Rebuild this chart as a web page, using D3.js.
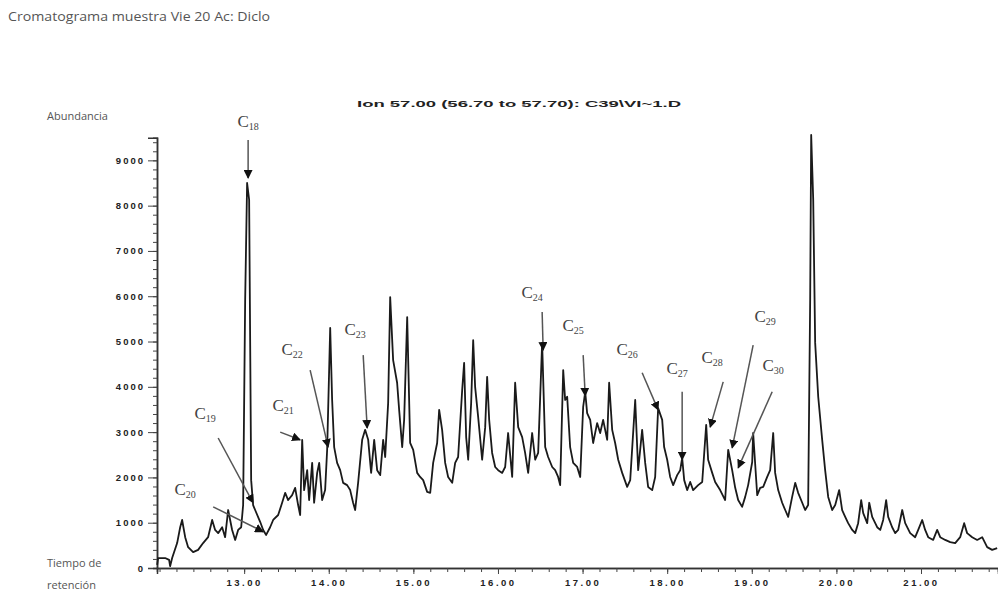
<!DOCTYPE html>
<html>
<head>
<meta charset="utf-8">
<script src="https://cdn.jsdelivr.net/npm/d3@7"></script>
<style>
body { margin: 0; background: #fff; }
</style>
</head>
<body>
<div id="chart"></div>
<script>
// retention time (min)
var retentionTime = [
  11.972,11.983,12.066,12.113,12.125,12.149,12.208,12.244,12.267,12.303,12.338,12.397,12.456,12.515,12.574,12.622,12.657,12.693,12.740,12.775,12.811,12.858,12.894,12.929,12.965,12.988,13.012,13.035,13.059,13.083,13.106,
  13.130,13.189,13.225,13.260,13.307,13.343,13.402,13.449,13.485,13.520,13.567,13.603,13.638,13.662,13.686,13.709,13.745,13.768,13.804,13.827,13.863,13.887,13.922,13.957,13.981,14.017,14.040,14.064,
  14.099,14.135,14.170,14.217,14.253,14.288,14.312,14.347,14.395,14.430,14.466,14.501,14.537,14.572,14.608,14.643,14.667,14.702,14.726,14.761,14.808,14.832,14.868,14.891,14.927,14.962,14.998,15.045,15.080,15.116,15.163,15.199,15.234,15.281,15.305,15.340,15.376,15.411,15.459,15.494,15.529,15.577,15.600,15.624,15.648,15.683,15.707,15.730,15.766,15.813,15.849,15.872,15.896,15.931,15.967,16.002,16.050,16.085,16.120,16.168,16.203,16.239,16.286,16.321,16.357,16.404,16.440,16.475,16.522,
  16.558,16.593,16.641,16.676,16.711,16.735,16.771,16.794,16.818,16.853,16.889,16.936,16.972,17.007,17.031,17.054,17.090,17.125,17.172,17.208,17.243,17.291,17.314,17.350,17.385,17.421,17.468,17.527,17.563,17.622,17.657,17.704,17.740,17.775,17.823,17.858,17.893,
  17.941,17.964,18.000,18.035,18.071,18.118,18.154,18.177,18.201,18.236,18.272,18.307,18.366,18.414,18.461,18.484,18.532,18.567,18.626,18.685,18.721,18.768,18.804,18.839,18.886,18.922,18.957,19.005,19.016,19.064,19.099,19.135,19.182,19.217,19.253,19.276,19.312,19.359,19.395,19.430,19.477,19.513,19.548,19.596,19.631,19.666,
  19.690,19.702,19.726,19.749,19.785,19.832,19.867,19.903,19.950,19.986,20.033,20.068,20.104,20.139,20.187,20.222,20.257,20.293,20.317,20.364,20.388,20.423,20.482,20.518,20.553,20.588,20.612,20.659,20.695,20.730,20.778,20.813,20.872,20.931,20.967,21.014,21.049,21.085,21.144,21.191,21.227,21.286,21.345,21.404,21.463,21.510,21.545,21.605,21.664,21.723,21.782,21.841,21.900
];

// abundance at each retention time
var abundance = [
  70,220,220,180,40,220,550,900,1060,680,460,350,400,550,680,1060,840,770,900,680,1280,840,620,840,900,1390,5920,8500,8130,1940,1390,
  1280,1020,840,730,900,1060,1170,1440,1660,1500,1610,1770,1390,1170,2830,1720,2160,1500,2320,1440,2100,2320,1500,1720,2610,5300,3710,2670,
  2320,2160,1880,1830,1720,1440,1280,1880,2830,3050,2830,2100,2830,2160,2050,2830,2450,3640,5980,4590,4090,3490,2670,3270,5540,2760,2610,2100,2010,1940,1680,1660,2320,2760,3490,3050,2320,2010,1880,2320,2450,3930,4530,2890,2390,3640,5030,4000,3330,2390,3110,4220,3270,2540,2230,2160,2100,2230,2980,2010,4090,3110,2890,2540,2100,2980,2390,2540,4970,
  2670,2450,2230,2160,2010,1830,4370,3710,3780,2670,2320,2230,2010,3560,3890,3420,3270,2760,3200,2980,3270,2830,4090,3050,2760,2390,2100,1790,1940,3710,2160,3050,2320,1790,1720,2010,3530,
  3270,2670,2390,2010,1830,2050,2160,2430,1940,1720,1900,1720,1830,1900,3160,2390,2100,1900,1720,1500,2610,2160,1770,1500,1350,1570,1830,2340,2980,1610,1770,1790,2010,2160,2980,2100,1720,1440,1280,1130,1570,1880,1660,1440,1280,1390,
  5920,9560,8130,4970,3780,2830,2160,1570,1280,1390,1720,1280,1130,990,840,770,990,1500,1210,990,1440,1130,900,840,1060,1500,1130,900,770,840,1280,990,770,680,840,1060,840,680,620,840,680,620,570,550,680,990,770,680,620,680,460,400,440
];

var yTickValues = [0, 1000, 2000, 3000, 4000, 5000, 6000, 7000, 8000, 9000];
var xTickValues = [13, 14, 15, 16, 17, 18, 19, 20, 21];

// n-alkane peak labels: carbon number, label point, arrow start, arrow end (time, abundance)
var peakCarbon = ["18", "19", "20", "21", "22", "23", "24", "25", "26", "27", "28", "29", "30"];
var labelAt = [[13.047,9850],[12.539,3400],[12.303,1720],[13.461,3580],[13.567,4810],[14.312,5250],[16.404,6070],[16.889,5340],[17.527,4810],[18.118,4390],[18.532,4640],[19.158,5540],[19.253,4460]];
var arrowFrom = [[13.047,9450],[12.693,2870],[12.634,1350],[13.426,3000],[13.780,4370],[14.407,4700],[16.522,5650],[17.007,4700],[17.704,4310],[18.177,3890],[18.662,4110],[19.016,4920],[19.241,3890]];
var arrowTo = [[13.047,8610],[13.106,1440],[13.225,800],[13.662,2830],[13.993,2670],[14.454,3090],[16.534,4810],[17.031,3800],[17.893,3490],[18.177,2390],[18.508,3110],[18.768,2650],[18.839,2210]];

var width = 998;
var height = 596;

var svg = d3.select("#chart")
    .append("svg")
    .attr("width", width)
    .attr("height", height);

var x = d3.scaleLinear().domain([11.97, 21.91]).range([157, 998]);
var y = d3.scaleLinear().domain([0, 9500]).range([568, 137.7]);

// titles
svg.append("text")
    .attr("x", 8).attr("y", 21)
    .attr("textLength", 262).attr("lengthAdjust", "spacingAndGlyphs")
    .attr("font-family", "Open Sans, sans-serif").attr("font-size", "12px")
    .attr("fill", "#555")
    .text("Cromatograma muestra Vie 20  Ac: Diclo");

svg.append("text")
    .attr("x", 357).attr("y", 107)
    .attr("textLength", 324).attr("lengthAdjust", "spacingAndGlyphs")
    .attr("font-family", "Liberation Sans, Arial, sans-serif").attr("font-weight", "bold").attr("font-size", "9px")
    .attr("fill", "#222")
    .text("Ion  57.00 (56.70 to 57.70): C39\\VI~1.D");

var sideLabels = [["Abundancia", 120], ["Tiempo de", 567], ["retención", 589]];
svg.selectAll("text.side")
    .data(sideLabels)
    .enter()
    .append("text")
    .attr("class", "side")
    .attr("x", 47)
    .attr("y", function(d) { return d[1]; })
    .attr("font-family", "Open Sans, sans-serif")
    .attr("font-size", "11px")
    .attr("fill", "#555")
    .text(function(d) { return d[0]; });

// axes
var yAxis = d3.axisLeft(y).tickValues(yTickValues).tickFormat(d3.format("d")).tickSize(9).tickPadding(3);
var yMinor = d3.axisLeft(y).tickValues(d3.range(200, 9500, 200)).tickFormat("").tickSize(4);
var xAxis = d3.axisBottom(x).tickValues(xTickValues).tickFormat(d3.format(".2f")).tickSize(6).tickPadding(5);
var xMinor = d3.axisBottom(x).tickValues(d3.range(12, 21.9, 0.2)).tickFormat("").tickSize(4);

var gy = svg.append("g").attr("transform", "translate(157,0)").call(yAxis);
svg.append("g").attr("transform", "translate(157,0)").call(yMinor);
var gx = svg.append("g").attr("transform", "translate(0,568)").call(xAxis);
svg.append("g").attr("transform", "translate(0,568)").call(xMinor);

svg.selectAll(".domain").attr("stroke", "#333").attr("stroke-width", 1.5);
svg.selectAll(".tick line").attr("stroke", "#444");
gy.selectAll("text")
    .attr("font-family", "Liberation Sans, Arial, sans-serif").attr("font-weight", "bold")
    .attr("font-size", "9.5px").attr("letter-spacing", "2px").attr("fill", "#222");
gx.selectAll("text")
    .attr("font-family", "Liberation Sans, Arial, sans-serif").attr("font-weight", "bold")
    .attr("font-size", "9.5px").attr("letter-spacing", "2.5px").attr("fill", "#222");

// trace
var points = retentionTime.map(function(t, i) { return [t, abundance[i]]; });
var line = d3.line()
    .x(function(d) { return x(d[0]); })
    .y(function(d) { return y(d[1]); });

svg.append("path")
    .datum(points)
    .attr("d", line)
    .attr("fill", "none")
    .attr("stroke", "#1a1a1a")
    .attr("stroke-width", 1.8)
    .attr("stroke-linejoin", "round");

// arrows
svg.append("defs").append("marker")
    .attr("id", "head")
    .attr("viewBox", "0 0 10 10")
    .attr("refX", 9).attr("refY", 5)
    .attr("markerWidth", 9).attr("markerHeight", 9)
    .attr("markerUnits", "userSpaceOnUse")
    .attr("orient", "auto")
    .append("path")
    .attr("d", "M0,0 L10,5 L0,10 z")
    .attr("fill", "#111");

svg.selectAll("line.arrow")
    .data(peakCarbon)
    .enter()
    .append("line")
    .attr("class", "arrow")
    .attr("x1", function(d, i) { return x(arrowFrom[i][0]); })
    .attr("y1", function(d, i) { return y(arrowFrom[i][1]); })
    .attr("x2", function(d, i) { return x(arrowTo[i][0]); })
    .attr("y2", function(d, i) { return y(arrowTo[i][1]); })
    .attr("stroke", "#555")
    .attr("stroke-width", 1.5)
    .attr("marker-end", "url(#head)");

var labels = svg.selectAll("text.peak")
    .data(peakCarbon)
    .enter()
    .append("text")
    .attr("class", "peak")
    .attr("x", function(d, i) { return x(labelAt[i][0]); })
    .attr("y", function(d, i) { return y(labelAt[i][1]) + 5; })
    .attr("text-anchor", "middle")
    .attr("font-family", "Liberation Serif, Times New Roman, serif")
    .attr("fill", "#444");

labels.append("tspan").attr("font-size", "17px").text("C");
labels.append("tspan").attr("font-size", "10px").attr("dy", 3).text(function(d) { return d; });
</script>
</body>
</html>
